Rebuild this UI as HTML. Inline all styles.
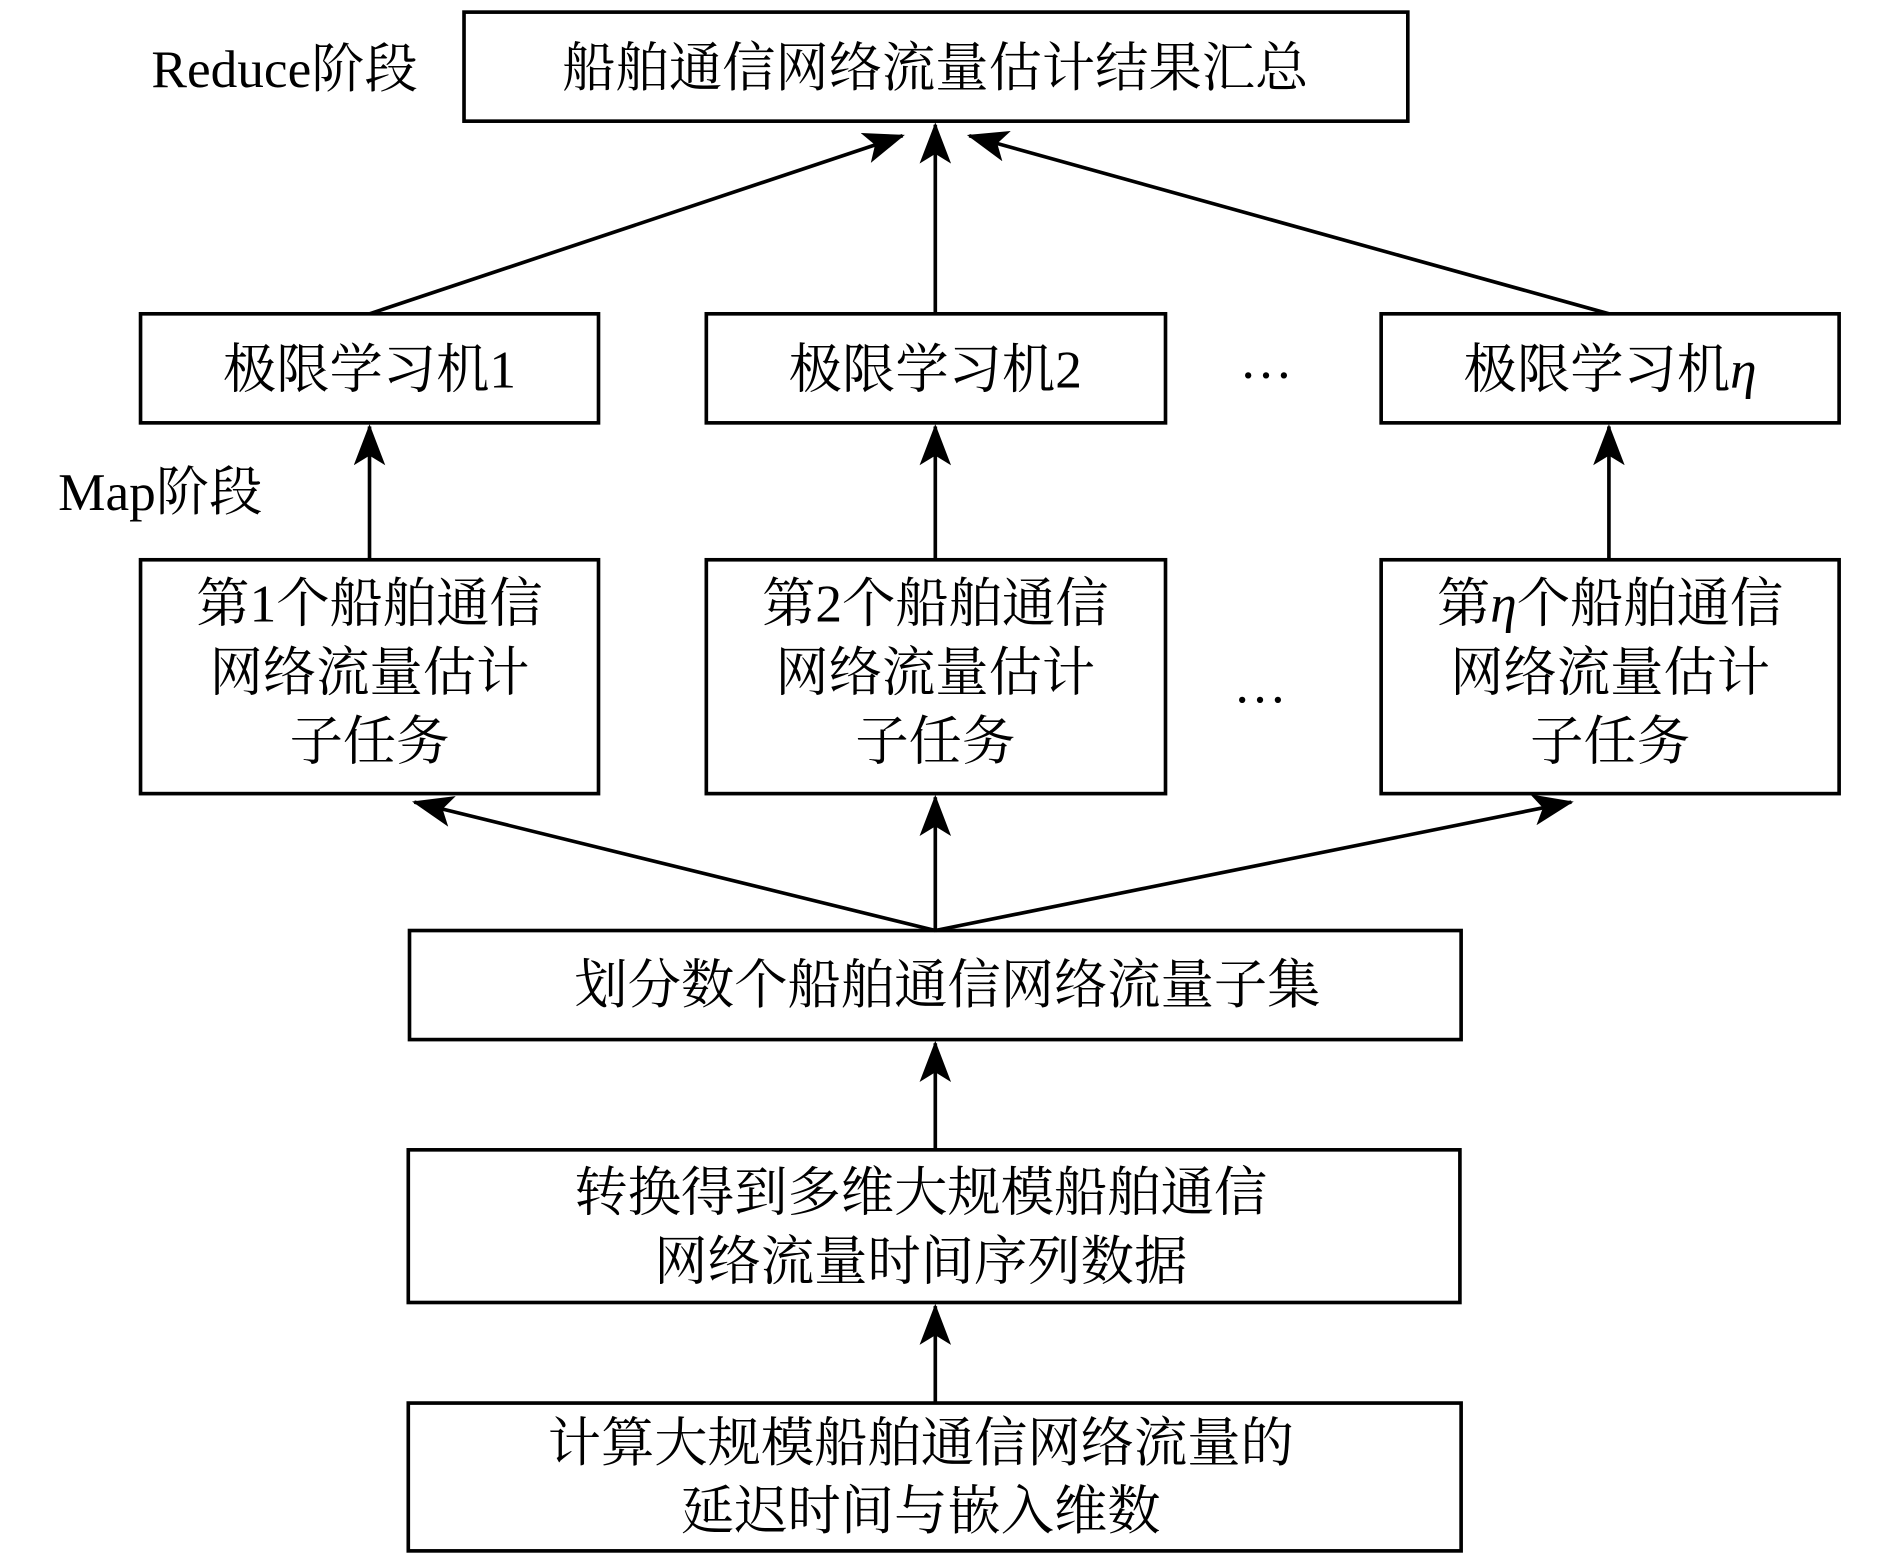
<!DOCTYPE html>
<html><head><meta charset="utf-8"><style>
html,body{margin:0;padding:0;background:#fff;}
svg{display:block;}
text{font-family:"Liberation Serif","Noto Serif CJK SC","Noto Sans CJK SC",serif;font-size:44px;fill:#000;}
</style></head><body>
<svg width="1890" height="1563" viewBox="0 0 1560 1290" preserveAspectRatio="none" xmlns="http://www.w3.org/2000/svg">
<defs>
<marker id="a" markerWidth="34" markerHeight="26" refX="32" refY="13" orient="auto" markerUnits="userSpaceOnUse">
<path d="M0,0 L34,13 L0,26 L8,13 Z" fill="#000"/>
</marker>
</defs>
<g fill="none" stroke="#000" stroke-width="3">
<rect x="383" y="10" width="779" height="90"/>
<rect x="116" y="259" width="378" height="90"/>
<rect x="583" y="259" width="379" height="90"/>
<rect x="1140" y="259" width="378" height="90"/>
<rect x="116" y="462" width="378" height="193"/>
<rect x="583" y="462" width="379" height="193"/>
<rect x="1140" y="462" width="378" height="193"/>
<rect x="338" y="768" width="868" height="90"/>
<rect x="337" y="949" width="868" height="126"/>
<rect x="337" y="1158" width="869" height="122"/>
</g>
<g stroke="#000" stroke-width="3" marker-end="url(#a)">
<line x1="305" y1="259" x2="745" y2="112"/>
<line x1="772" y1="259" x2="772" y2="103"/>
<line x1="1328" y1="259" x2="800" y2="112"/>
<line x1="305" y1="462" x2="305" y2="352"/>
<line x1="772" y1="462" x2="772" y2="352"/>
<line x1="1328" y1="462" x2="1328" y2="352"/>
<line x1="772" y1="768" x2="342" y2="662"/>
<line x1="772" y1="768" x2="772" y2="658"/>
<line x1="772" y1="768" x2="1297" y2="662"/>
<line x1="772" y1="949" x2="772" y2="861"/>
<line x1="772" y1="1158" x2="772" y2="1078"/>
</g>
<g text-anchor="middle">
<text x="772" y="71">船舶通信网络流量估计结果汇总</text>
<text x="305" y="320">极限学习机1</text>
<text x="772" y="320">极限学习机2</text>
<text x="1329" y="320">极限学习机<tspan font-style="italic">η</tspan></text>
<text x="1045" y="312">…</text>
<text x="305" y="513">第1个船舶通信</text>
<text x="305" y="570">网络流量估计</text>
<text x="305" y="627">子任务</text>
<text x="772" y="513">第2个船舶通信</text>
<text x="772" y="570">网络流量估计</text>
<text x="772" y="627">子任务</text>
<text x="1329" y="513">第<tspan font-style="italic">η</tspan>个船舶通信</text>
<text x="1329" y="570">网络流量估计</text>
<text x="1329" y="627">子任务</text>
<text x="1040" y="580">…</text>
<text x="782" y="828">划分数个船舶通信网络流量子集</text>
<text x="760" y="999">转换得到多维大规模船舶通信</text>
<text x="760" y="1056">网络流量时间序列数据</text>
<text x="760" y="1206">计算大规模船舶通信网络流量的</text>
<text x="760" y="1262">延迟时间与嵌入维数</text>
</g>
<text x="125" y="72">Reduce阶段</text>
<text x="48" y="421">Map阶段</text>
</svg>
</body></html>
